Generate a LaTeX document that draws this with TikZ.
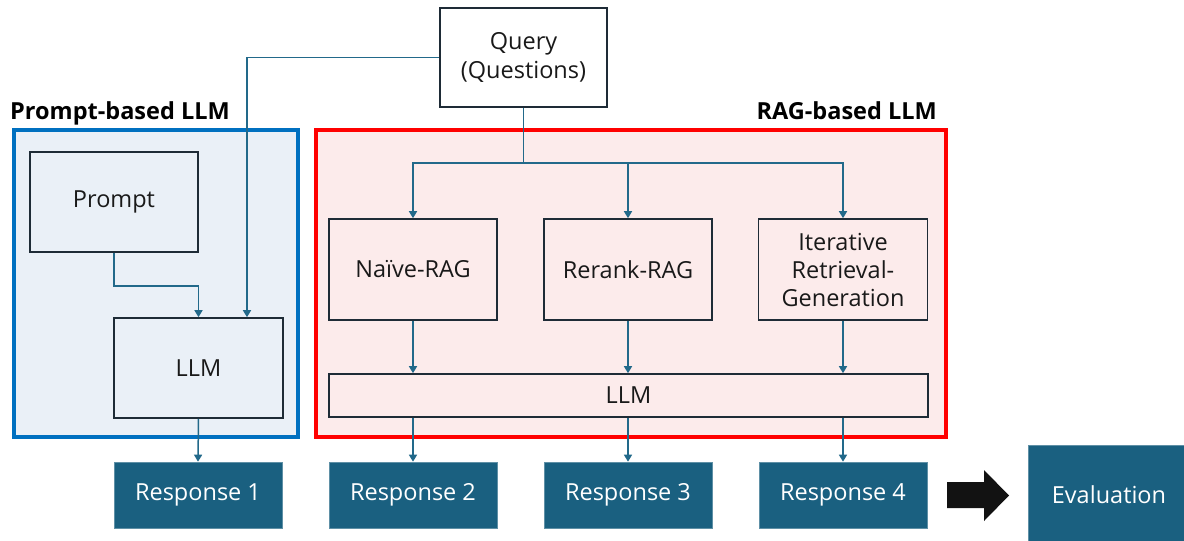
\documentclass[tikz,border=0pt]{standalone}
\usepackage{fontspec}
\setmainfont{Open Sans}
\usetikzlibrary{arrows.meta,calc}
\definecolor{frameblue}{HTML}{0070C0}
\definecolor{fillblue}{HTML}{EAF0F7}
\definecolor{framered}{HTML}{FF0000}
\definecolor{fillred}{HTML}{FCEBEB}
\definecolor{navy}{HTML}{1A6080}
\definecolor{connc}{HTML}{22698A}
\definecolor{boxline}{HTML}{1E2B36}
\tikzset{
  x=1pt,y=-1pt,
  frame/.style={draw, line width=3.5pt, inner sep=0pt},
  plainbox/.style={draw=boxline, line width=1.6pt, inner sep=0pt, align=center, font=\fontsize{23.5}{29}\selectfont, text=black!90},
  respbox/.style={fill=navy, draw=navy!70!white, line width=0.6pt, inner sep=0pt, align=center, font=\fontsize{23.5}{29}\selectfont, text=white, minimum width=168pt, minimum height=66pt},
  conn/.style={draw=connc, line width=1.5pt, -{Triangle[width=8pt,length=7pt]}},
  connplain/.style={draw=connc, line width=1.5pt},
  titletext/.style={font=\fontsize{23.5}{28}\selectfont\bfseries, inner sep=0pt}
}
\begin{document}
\begin{tikzpicture}
\useasboundingbox (0,0) rectangle (1184,541);
\fill[white] (0,0) rectangle (1184,541);
% frames
\node[frame, draw=frameblue, fill=fillblue, minimum width=284pt, minimum height=307pt] (blueframe) at (156,283.5) {};
\node[frame, draw=framered, fill=fillred, minimum width=630pt, minimum height=307pt] (redframe) at (631,283.5) {};
\node[titletext, anchor=base west] (ptitle) at (10,119) {Prompt-based LLM};
\node[titletext, anchor=base east] (rtitle) at (937,119) {RAG-based LLM};
% boxes
\node[plainbox, fill=white, minimum width=167pt, minimum height=99pt] (query) at (523.5,57.5) {Query\\(Questions)};
\node[plainbox, minimum width=168pt, minimum height=100pt] (prompt) at (114,202) {Prompt};
\node[plainbox, minimum width=169pt, minimum height=100pt] (llmone) at (198.5,368) {LLM};
\node[plainbox, minimum width=168pt, minimum height=101pt] (naive) at (413,269.5) {Naïve-RAG};
\node[plainbox, minimum width=168pt, minimum height=101pt] (rerank) at (628,269.5) {Rerank-RAG};
\node[plainbox, minimum width=169pt, minimum height=101pt, font=\fontsize{23.5}{28}\selectfont] (iter) at (843,269.5) {Iterative\\Retrieval-\\Generation};
\node[plainbox, minimum width=599pt, minimum height=43pt] (llmtwo) at (628.5,395.5) {LLM};
\node[respbox] (respone) at (198,495) {Response 1};
\node[respbox] (resptwo) at (413,495) {Response 2};
\node[respbox] (respthree) at (628,495) {Response 3};
\node[respbox] (respfour) at (843,495) {Response 4};
\node[respbox, minimum width=162pt, minimum height=100pt] (evalbox) at (1109,495) {Evaluation};
% big arrow
\fill[black!93] (947,482) -- (984,482) -- (984,470) -- (1009,495.5) -- (984,521) -- (984,508) -- (947,508) -- cycle;
% connectors
\draw[conn] (query.west) -| ([xshift=48.5pt]llmone.north);
\draw[conn] (prompt.south) -- ++(0,33) -| (llmone.north);
\draw[conn] (llmone.south) -- (respone.north);
\coordinate (split) at ($(query.south)+(0,55)$);
\draw[connplain] (query.south) -- (split);
\draw[conn] (split) -| (naive.north);
\draw[conn] (split) -| (iter.north);
\draw[conn] (rerank.north |- split) -- (rerank.north);
\draw[conn] (naive.south) -- (naive.south |- llmtwo.north);
\draw[conn] (rerank.south) -- (rerank.south |- llmtwo.north);
\draw[conn] (iter.south) -- (iter.south |- llmtwo.north);
\draw[conn] (llmtwo.south -| resptwo.north) -- (resptwo.north);
\draw[conn] (llmtwo.south -| respthree.north) -- (respthree.north);
\draw[conn] (llmtwo.south -| respfour.north) -- (respfour.north);
\end{tikzpicture}
\end{document}
